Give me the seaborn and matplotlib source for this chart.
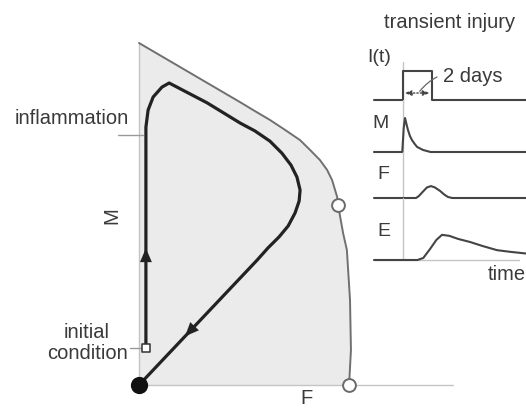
import numpy as np
import pandas as pd
import matplotlib
matplotlib.use("Agg")
import matplotlib.pyplot as plt
import seaborn as sns

# Phase plane: fibroblasts (F) against macrophages (M), scaled units
traj_F = [0.022, 0.022, 0.022, 0.029, 0.045, 0.073, 0.096, 0.217, 0.322, 0.369,
          0.417, 0.455, 0.484, 0.503, 0.513, 0.510, 0.497, 0.475, 0.446, 0.411,
          0.376, 0.0]
traj_M = [0.108, 0.716, 0.754, 0.804, 0.842, 0.871, 0.883, 0.825, 0.766, 0.743,
          0.713, 0.678, 0.643, 0.608, 0.570, 0.538, 0.503, 0.465, 0.433, 0.401,
          0.365, 0.0]

# Separatrix bounding the basin of the healed state
sep_F = [0.0, 0.322, 0.369, 0.417, 0.465, 0.513, 0.545, 0.576, 0.599, 0.615,
         0.631, 0.634, 0.650, 0.662, 0.672, 0.675, 0.669]
sep_M = [1.0, 0.827, 0.801, 0.775, 0.746, 0.716, 0.687, 0.658, 0.629, 0.599,
         0.550, 0.526, 0.444, 0.395, 0.249, 0.102, 0.0]

# Unstable fixed points on the separatrix and the healed state
unstable_F = [0.634, 0.669]
unstable_M = [0.526, 0.0]
healed_F = [0.0]
healed_M = [0.0]
inflammation_M = 0.731

# Time courses (days) after a transient 2-day injury
inj_t = [-2, 0, 0, 2, 2, 8.5]
inj_v = [0, 0, 1, 1, 0, 0]
mac_t = [-2, -0.05, 0.05, 0.14, 0.24, 0.34, 0.48, 0.62, 0.8, 0.97, 1.38, 1.9, 8.5]
mac_v = [0, 0, 0.71, 1.0, 0.82, 0.65, 0.47, 0.35, 0.24, 0.15, 0.06, 0, 0]
fib_t = [-2, 0.9, 1.1, 1.38, 1.65, 1.93, 2.2, 2.55, 2.85, 3.1, 3.4, 8.5]
fib_v = [0, 0, 0.06, 0.19, 0.31, 0.35, 0.31, 0.21, 0.10, 0.03, 0, 0]
ecm_t = [-2, 1.0, 1.4, 1.86, 2.3, 2.69, 3.2, 3.8, 4.62, 5.5, 6.48, 7.4, 8.5]
ecm_v = [0, 0, 0.06, 0.32, 0.59, 0.74, 0.71, 0.62, 0.53, 0.41, 0.29, 0.24, 0.19]

sns.set_theme(style="white")
plt.rcParams["font.family"] = ["Liberation Sans", "DejaVu Sans"]

W, H = 526, 409
fig = plt.figure(figsize=(W / 100, H / 100), dpi=100)
fig.patch.set_facecolor("white")


def rect(left, top, right, bottom):
    return [left / W, 1 - bottom / H, (right - left) / W, (bottom - top) / H]


TXT = "#3a3a3a"
FS = 14.5

# ---------------- phase plane ----------------
ax = fig.add_axes(rect(139, 43, 453, 385))
ax.set_xlim(0, 1)
ax.set_ylim(0, 1)
ax.axis("off")

ax.fill(np.r_[0.0, sep_F], np.r_[0.0, sep_M], color="#ebebeb", lw=0, zorder=0)
ax.plot([0, 0], [0, 1], color="#c4c4c4", lw=1.0, zorder=1, clip_on=False)
ax.plot([0, 1], [0, 0], color="#c4c4c4", lw=1.0, zorder=1, clip_on=False)

sep = pd.DataFrame({"F": sep_F, "M": sep_M})
sns.lineplot(data=sep, x="F", y="M", sort=False, estimator=None, ax=ax,
             color="#707070", lw=1.4, zorder=2)

traj = pd.DataFrame({"F": traj_F, "M": traj_M})
sns.lineplot(data=traj, x="F", y="M", sort=False, estimator=None, ax=ax,
             color="#222222", lw=2.3, zorder=3)
for line in ax.lines:
    line.set_clip_on(False)
    line.set_solid_joinstyle("round")


def arrow_on(i, frac, length=0.045):
    x0, y0 = traj_F[i], traj_M[i]
    x1, y1 = traj_F[i + 1], traj_M[i + 1]
    d = np.array([x1 - x0, y1 - y0])
    d = d / np.hypot(*d)
    tip = np.array([x0 + frac * (x1 - x0), y0 + frac * (y1 - y0)])
    tail = tip - d * length
    ax.annotate("", xy=tip, xytext=tail,
                arrowprops=dict(arrowstyle="-|>,head_length=0.7,head_width=0.3",
                                color="#222222", lw=0.1, shrinkA=0, shrinkB=0,
                                mutation_scale=14), zorder=4)


arrow_on(0, 0.48)
arrow_on(len(traj_F) - 2, 0.61)

ax.scatter(unstable_F, unstable_M, s=85, facecolor="white", edgecolor="#6a6a6a",
           lw=1.4, zorder=5, clip_on=False)
ax.scatter(healed_F, healed_M, s=130, color="#111111", zorder=5, clip_on=False)
ax.scatter(traj_F[:1], traj_M[:1], s=34, marker="s", facecolor="white",
           edgecolor="#333333", lw=1.1, zorder=5, clip_on=False)

# level ticks on the M axis
ax.plot([-0.067, 0.013], [inflammation_M] * 2, color="#9a9a9a", lw=1.0, clip_on=False)
ax.plot([-0.03, 0.012], [traj_M[0]] * 2, color="#9a9a9a", lw=1.0, clip_on=False)

fig.text(129 / W, 1 - 118 / H, "inflammation", ha="right", va="center",
         fontsize=FS, color=TXT)
fig.text(87 / W, 1 - 343 / H, "initial\ncondition", ha="center", va="center",
         fontsize=FS, color=TXT, linespacing=1.1)
fig.text(112 / W, 1 - 216 / H, "M", ha="center", va="center", rotation=90,
         fontsize=FS, color=TXT)
fig.text(306 / W, 1 - 398 / H, "F", ha="center", va="center",
         fontsize=FS, color=TXT)

# ---------------- time courses ----------------
T0, T1 = -2, -2 + 152 / 14.5
panels = [
    ("I(t)", inj_t, inj_v, 62, 100, 29, 379, 58),
    ("M", mac_t, mac_v, 100, 152, 34, 381, 123),
    ("F", fib_t, fib_v, 152, 198, 34, 383, 174),
    ("E", ecm_t, ecm_v, 198, 260, 34, 384, 232),
]
for name, t, v, top, base, unit, lx, ly in panels:
    a = fig.add_axes(rect(374, top, 526, base))
    a.set_xlim(T0, T1)
    a.set_ylim(0, (base - top) / unit)
    a.axis("off")
    a.axvline(0, color="#c4c4c4", lw=1.0, zorder=1)
    if name == "E":
        a.axhline(0, xmax=145 / 152, color="#c4c4c4", lw=1.0, zorder=1)
    df = pd.DataFrame({"t": t, "v": v})
    sns.lineplot(data=df, x="t", y="v", sort=False, estimator=None, ax=a,
                 color="#444444", lw=1.5, zorder=2)
    for line in a.lines:
        line.set_clip_on(False)
    fig.text(lx / W, 1 - ly / H, name, ha="center", va="center",
             fontsize=FS - 0.5, color=TXT)
    if name == "I(t)":
        a.annotate("", xy=(1.85, 0.24), xytext=(0.1, 0.24),
                   arrowprops=dict(arrowstyle="<|-|>,head_length=0.4,head_width=0.15",
                                   color="#444444", lw=1.0, ls=(0, (1, 1.5)),
                                   shrinkA=0, shrinkB=0, mutation_scale=10))
        a.annotate("2 days", xy=(1.15, 0.3), xytext=(2.75, 0.82),
                   ha="left", va="center", fontsize=FS, color=TXT,
                   arrowprops=dict(arrowstyle="-", color="#666666", lw=0.9,
                                   connectionstyle="arc3,rad=0.35",
                                   shrinkA=2, shrinkB=0))

fig.text(450 / W, 1 - 22 / H, "transient injury", ha="center", va="center",
         fontsize=FS, color=TXT)
fig.text(526 / W, 1 - 274 / H, "time", ha="right", va="center",
         fontsize=FS, color=TXT)

fig.savefig("out.png", dpi=100, facecolor="white")
